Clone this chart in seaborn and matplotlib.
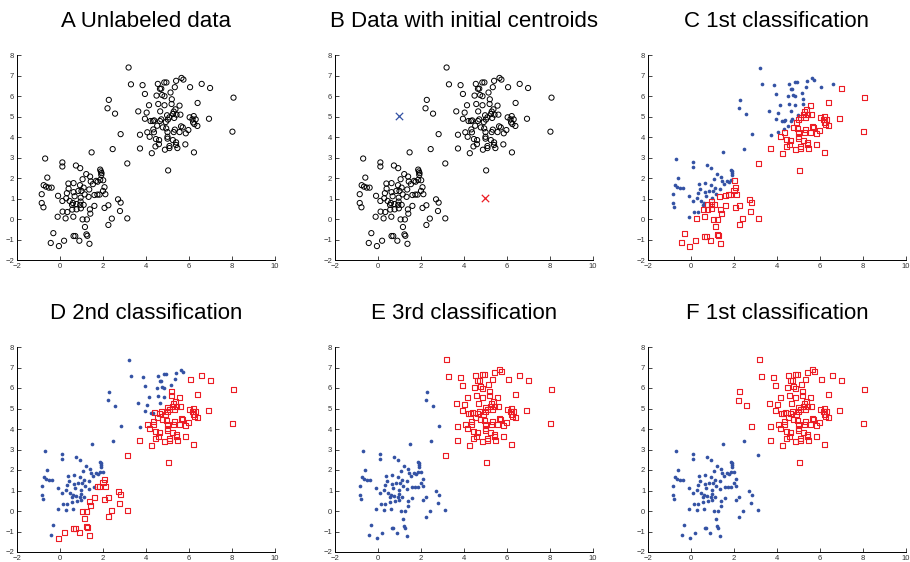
import numpy as np
import pandas as pd
import matplotlib
matplotlib.use('Agg')
import matplotlib.pyplot as plt
import seaborn as sns

# points (x, y)
upper_pts = [
    (3.19, 7.39), (3.30, 6.57), (3.84, 6.53), (4.55, 6.59), (4.85, 6.66), (4.95, 6.66),
    (4.65, 6.35), (4.71, 6.36), (5.40, 6.74), (5.65, 6.88), (5.74, 6.80), (6.05, 6.43),
    (6.59, 6.59), (5.34, 6.43), (3.95, 6.10), (4.49, 6.02), (4.75, 6.05), (4.86, 5.99),
    (5.14, 6.17), (5.20, 5.84), (4.14, 5.55), (4.57, 5.61), (4.86, 5.55), (5.19, 5.61),
    (2.27, 5.81), (2.21, 5.40), (2.56, 5.14), (3.64, 5.25), (4.03, 5.19), (4.66, 5.25),
    (4.98, 5.06), (3.95, 4.89), (4.21, 4.78), (4.32, 4.78), (4.38, 4.81), (4.65, 4.78),
    (4.71, 4.86), (4.52, 4.55), (4.34, 4.37), (4.06, 4.23), (3.72, 4.11), (2.82, 4.14),
    (2.45, 3.41), (1.47, 3.25),
    (6.98, 6.39), (6.40, 5.66), (8.07, 5.92), (5.56, 5.53), (5.37, 5.35), (5.29, 5.24),
    (5.25, 5.12), (5.42, 5.09), (5.60, 5.09), (5.09, 4.96), (5.31, 4.93), (5.02, 4.85),
    (4.92, 4.73), (6.03, 4.96), (6.22, 5.02), (6.16, 4.86), (6.31, 4.86), (6.19, 4.71),
    (6.25, 4.63), (6.39, 4.54), (6.93, 4.89), (5.63, 4.52), (5.71, 4.47), (4.78, 4.47),
    (4.94, 4.42), (5.34, 4.36), (5.29, 4.24), (5.56, 4.24), (5.00, 4.24), (5.97, 4.34),
    (5.85, 4.18), (4.37, 4.23), (4.17, 4.01), (5.00, 4.01), (5.00, 3.92), (4.46, 3.90),
    (4.61, 3.85), (5.25, 3.85), (5.40, 3.74), (4.60, 3.65), (4.44, 3.54), (5.09, 3.56),
    (5.40, 3.61), (5.83, 3.64), (4.88, 3.38), (5.09, 3.46), (5.46, 3.46), (3.72, 3.44),
    (4.27, 3.21), (6.23, 3.25), (8.02, 4.26), (5.03, 2.37), (3.13, 2.71),
]
lower_pts = [
    (-0.69, 2.95), (0.11, 2.76), (0.11, 2.56), (0.74, 2.61), (0.94, 2.48), (1.22, 2.19),
    (1.40, 2.07), (1.87, 2.41), (1.90, 2.32), (1.93, 2.24), (1.92, 2.15), (-0.59, 2.02),
    (-0.76, 1.65), (-0.65, 1.58), (-0.52, 1.53), (-0.39, 1.53), (-0.85, 1.21), (-0.85, 0.78),
    (-0.77, 0.57), (0.39, 1.73), (0.63, 1.75), (0.93, 1.65), (1.10, 1.53), (0.40, 1.48),
    (1.05, 1.94), (1.68, 1.86), (1.75, 1.82), (1.87, 1.91), (0.32, 1.26), (0.63, 1.31),
    (0.68, 1.11), (1.00, 1.37), (1.36, 1.44), (-0.09, 1.13), (0.29, 1.01), (0.45, 0.88),
    (0.60, 0.78), (0.56, 0.69), (0.76, 0.73), (0.11, 0.88), (0.12, 0.36), (0.34, 0.34),
    (-0.11, 0.11), (0.96, 1.04), (0.85, 1.37), (1.43, 1.83), (1.53, 1.70), (1.15, 1.20),
    (2.01, 1.89), (2.07, 1.55), (2.00, 1.37), (2.11, 1.21), (1.60, 1.17), (1.74, 1.19),
    (1.84, 1.19), (1.33, 1.08), (2.70, 0.96), (2.82, 0.80), (2.25, 0.67), (2.07, 0.54),
    (1.39, 0.47), (1.41, 0.26), (1.60, 0.64), (2.79, 0.39), (2.41, 0.02), (2.25, -0.29),
    (3.13, 0.03), (0.96, 0.85), (0.94, 0.69), (0.97, 0.52), (1.10, 0.69), (0.77, 0.47),
    (0.57, 0.46), (0.62, 0.11), (0.26, 0.03), (1.05, -0.02), (1.25, -0.02), (1.16, -0.39),
    (1.23, -0.75), (1.27, -0.82), (0.63, -0.83), (0.71, -0.83), (0.90, -1.06), (1.37, -1.21),
    (0.19, -1.06), (-0.31, -0.69), (-0.43, -1.17), (-0.05, -1.32),
]
init_centroids = [(1, 5), (5, 1)]   # blue, red

titles = ['A Unlabeled data', 'B Data with initial centroids', 'C 1st classification',
          'D 2nd classification', 'E 3rd classification', 'F 1st classification']

BLUE = '#3452a4'
RED = '#ec1c24'

pts = np.array(upper_pts + lower_pts)
df = pd.DataFrame(pts, columns=['x', 'y'])

# k-means steps starting from the initial centroids
cents = np.array(init_centroids, dtype=float)
steps = []
for i in range(4):
    d = ((pts[:, None, :] - cents[None, :, :]) ** 2).sum(axis=2)
    lab = d.argmin(axis=1)
    steps.append(lab)
    cents = np.array([pts[lab == k].mean(axis=0) for k in range(2)])

sns.set_theme(style='ticks')
plt.rcParams['font.family'] = ['Liberation Sans', 'DejaVu Sans']

fig = plt.figure(figsize=(9.1, 5.62), dpi=100)
lefts = [17, 335, 648]
tops = [55, 347]
axes = []
for r in range(2):
    for c in range(3):
        ax = fig.add_axes([lefts[c] / 910, 1 - (tops[r] + 205) / 562, 258 / 910, 205 / 562])
        axes.append(ax)

def open_circles(ax):
    sns.scatterplot(data=df, x='x', y='y', ax=ax, marker='o', s=14,
                    facecolor='none', edgecolor='black', linewidth=0.7)

def classified(ax, lab):
    sns.scatterplot(data=df[lab == 0], x='x', y='y', ax=ax, marker='o', s=7,
                    color=BLUE, edgecolor=BLUE, linewidth=0)
    sns.scatterplot(data=df[lab == 1], x='x', y='y', ax=ax, marker='s', s=13,
                    facecolor='none', edgecolor=RED, linewidth=0.8)

open_circles(axes[0])
open_circles(axes[1])
cx = [p[0] for p in init_centroids]
cy = [p[1] for p in init_centroids]
sns.scatterplot(x=cx, y=cy, ax=axes[1], marker='x', s=28, hue=['b', 'r'],
                palette=[BLUE, RED], linewidth=0.9, legend=False)
classified(axes[2], steps[0])
classified(axes[3], steps[1])
classified(axes[4], steps[2])
classified(axes[5], steps[3])

for ax, t in zip(axes, titles):
    ax.set_xlim(-2, 10)
    ax.set_ylim(-2, 8)
    ax.set_xticks(np.arange(-2, 11, 2))
    ax.set_yticks(np.arange(-2, 9, 1))
    ax.tick_params(direction='in', length=3, width=0.6, labelsize=5.5,
                   labelcolor='#333333', pad=2)
    ax.set_xlabel('')
    ax.set_ylabel('')
    sns.despine(ax=ax)
    for s in ['left', 'bottom']:
        ax.spines[s].set_linewidth(0.7)
        ax.spines[s].set_color('black')
    ax.set_title(t, fontsize=16, pad=20, color='black')

fig.savefig('out.png', dpi=100)
